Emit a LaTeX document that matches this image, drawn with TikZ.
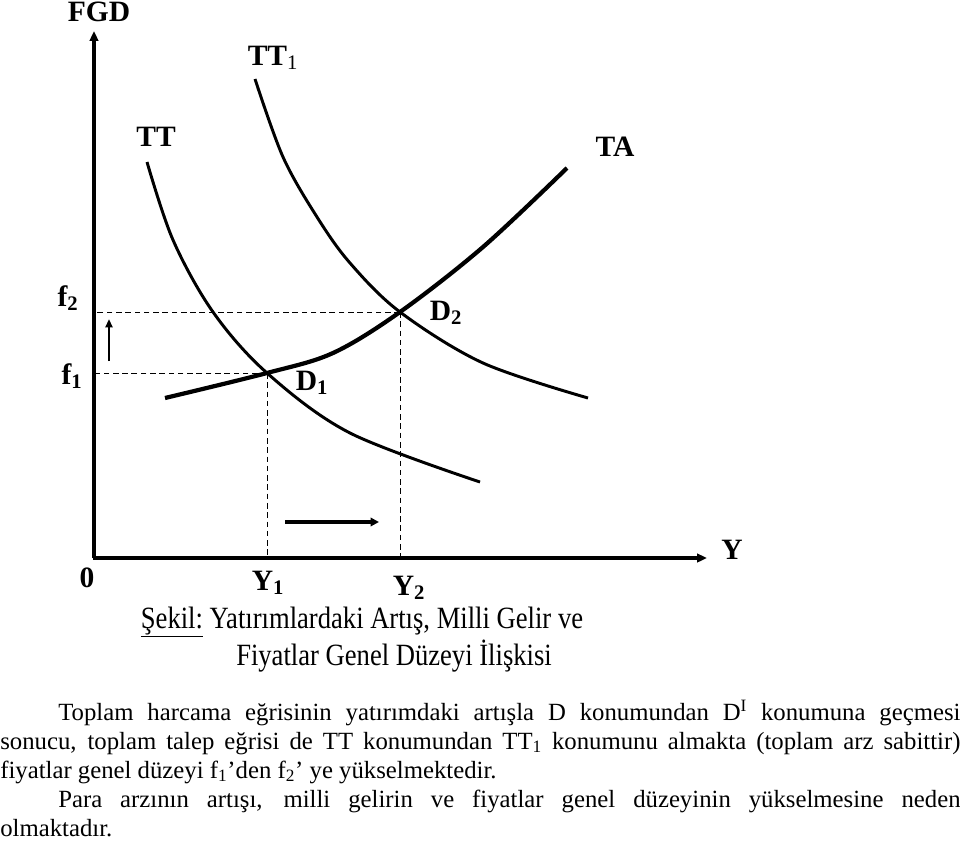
\documentclass[tikz,border=0pt]{standalone}
\usepackage{fontspec}
\setmainfont{Liberation Serif}
\newfontfamily\captfont[FakeStretch=0.86]{Liberation Serif}
\usetikzlibrary{arrows.meta, positioning, calc}

\begin{document}
\begin{tikzpicture}[x=0.025cm, y=-0.025cm,
		lab/.style={font=\fontsize{21}{23}\selectfont\bfseries, inner sep=0pt},
		curve/.style={line width=2.1pt},
		guide/.style={line width=0.7pt, dash pattern=on 4pt off 2.6pt},
		axis/.style={line width=2.6pt, -{Triangle[length=7pt,width=6pt]}}]
			\useasboundingbox (0,0) rectangle (960,842);
			% axes
			\coordinate (o) at (94,558);
			\coordinate (ytop) at (94,31);
			\coordinate (xend) at (707,558);
			\draw [axis] (o) -- (ytop);
			\draw [axis] ($(o)+(-1.5,0)$) -- (xend);
			% equilibria
			\coordinate (D1) at (267,373);
			\coordinate (D2) at (400,312);
			\draw [guide] (D1) -- (D1 -| o);
			\draw [guide] (D2) -- (D2 -| o);
			\draw [guide] (D1) -- (D1 |- o);
			\draw [guide] (D2) -- (D2 |- o);
			% curves
			\draw [curve] plot [smooth, tension=0.55] coordinates
				{(147,162) (173,240) (213,312) (D1) (350,433) (480,482)};
			\draw [curve] plot [smooth, tension=0.55] coordinates
				{(255,79) (283,157) (317,217) (350,263) (D2) (483,363) (588,398)};
			\draw [line width=3pt] plot [smooth, tension=0.55] coordinates
				{(165,398) (D1) (333,353) (D2) (483,247) (567,168)};
			% shift arrows
			\coordinate (ua) at (109,361);
			\coordinate (ub) at (109,319);
			\coordinate (ra) at (285,522);
			\coordinate (rb) at (379,522);
			\draw [line width=1.6pt, -{Triangle[length=6pt,width=5pt]}] (ua) -- (ub);
			\draw [line width=2.4pt, -{Triangle[length=6pt,width=6pt]}] (ra) -- (rb);
			% labels
			\node [lab] (fgd) at (99,12) {FGD};
			\node [lab] (tt1) at (273,58) {TT\textsubscript{\mdseries 1}};
			\node [lab] (tt) at (156,137) {TT};
			\node [lab] (ta) at (615,147) {TA};
			\node [lab] (f2) at (68,298) {f\textsubscript{2}};
			\node [lab] (f1) at (72,376) {f\textsubscript{1}};
			\node [lab] (d2) at (446,313) {D\textsubscript{2}};
			\node [lab] (d1) at (312,383) {D\textsubscript{1}};
			\node [lab] (zero) at (87,578) {0};
			\node [lab] (y1) at (268,583) {Y\textsubscript{1}};
			\node [lab] (y2) at (409,588) {Y\textsubscript{2}};
			\node [lab] (yax) at (732,550) {Y};
			% caption
			\node [font=\captfont\fontsize{22}{24}\selectfont, inner sep=0pt] (cap1) at (362,622)
				{\underline{Şekil:} Yatırımlardaki Artış, Milli Gelir ve};
			\node [font=\captfont\fontsize{22}{24}\selectfont, inner sep=0pt] (cap2) at (394,656)
				{Fiyatlar Genel Düzeyi İlişkisi};
			% text
			\node [anchor=base west, inner sep=0pt] (txt) at (0,720) {\parbox[t]{24cm}{%
				\fontsize{17.6}{20.7}\selectfont\setlength{\parindent}{0pt}\lineskiplimit=-50pt%
				\hspace*{1.45cm}Toplam harcama eğrisinin yatırımdaki artışla D konumundan D\textsuperscript{I} konumuna geçmesi\linebreak
				sonucu, toplam talep eğrisi de TT konumundan TT\textsubscript{1} konumunu almakta (toplam arz sabittir)\linebreak
				fiyatlar genel düzeyi f\textsubscript{1}’den f\textsubscript{2}’ ye yükselmektedir.\par
				\hspace*{1.45cm}Para arzının artışı, milli gelirin ve fiyatlar genel düzeyinin yükselmesine neden\linebreak
				olmaktadır.}};
		\end{tikzpicture}
\end{document}
